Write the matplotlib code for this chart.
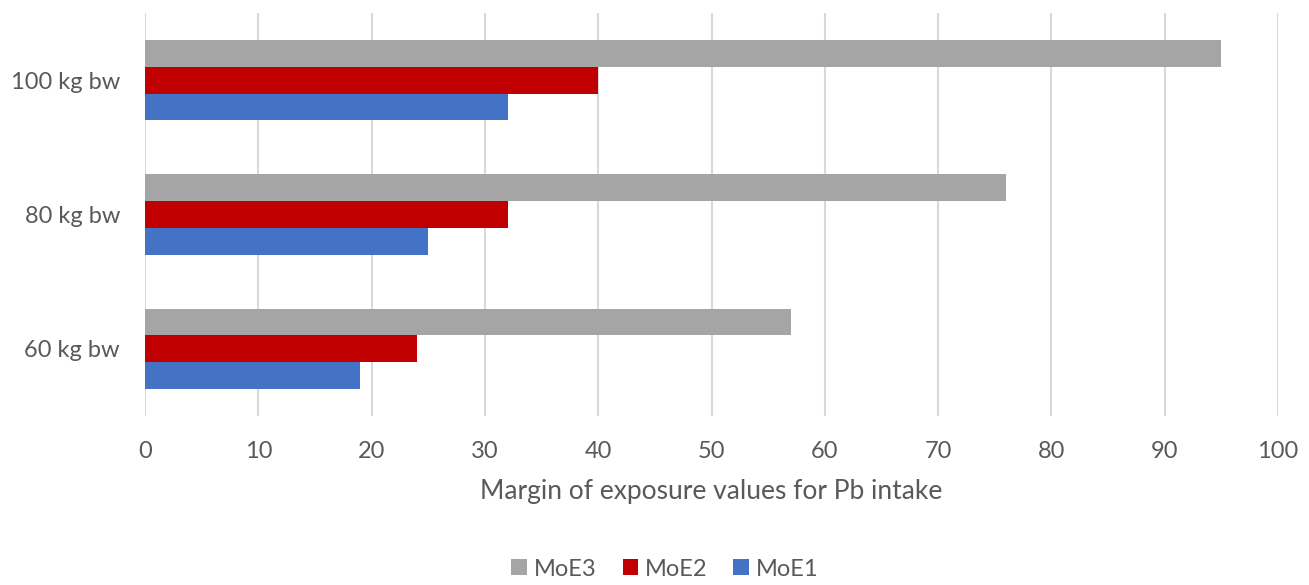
import numpy as np
import matplotlib.pyplot as plt

plt.rcParams['font.family'] = ['Lato', 'DejaVu Sans']

groups = ['60 kg bw', '80 kg bw', '100 kg bw']
moe1 = [19, 25, 32]
moe2 = [24, 32, 40]
moe3 = [57, 76, 95]

text_col = '#595959'
h = 0.2
y = np.arange(len(groups))

fig = plt.figure(figsize=(13.09, 5.85), dpi=100)
ax = fig.add_axes([145 / 1309, 1 - 416 / 585, (1278 - 145) / 1309, (416 - 13) / 585])

b3 = ax.barh(y + h, moe3, height=h, color='#A5A5A5', label='MoE3', zorder=3)
b2 = ax.barh(y, moe2, height=h, color='#C00000', label='MoE2', zorder=3)
b1 = ax.barh(y - h, moe1, height=h, color='#4472C4', label='MoE1', zorder=3)

ax.set_xlim(0, 100)
ax.set_ylim(-0.5, 2.5)
ax.set_xticks(np.arange(0, 101, 10))
ax.set_yticks(y)
ax.set_yticklabels(groups)
ax.grid(axis='x', color='#D9D9D9', linewidth=1.5, zorder=0)
for s in ax.spines.values():
    s.set_visible(False)
ax.tick_params(length=0, labelsize=17, labelcolor=text_col)
ax.tick_params(axis='x', pad=18)
ax.tick_params(axis='y', pad=18)
ax.set_xlabel('Margin of exposure values for Pb intake', fontsize=19,
              color=text_col, labelpad=12)

fig.legend(handles=[b3, b2, b1], loc='center', bbox_to_anchor=(0.508, 1 - 569 / 585),
           ncol=3, frameon=False, fontsize=17, labelcolor=text_col,
           handlelength=0.65, handleheight=0.65, handletextpad=0.3, columnspacing=1.1)

fig.savefig('out.png', dpi=100)
